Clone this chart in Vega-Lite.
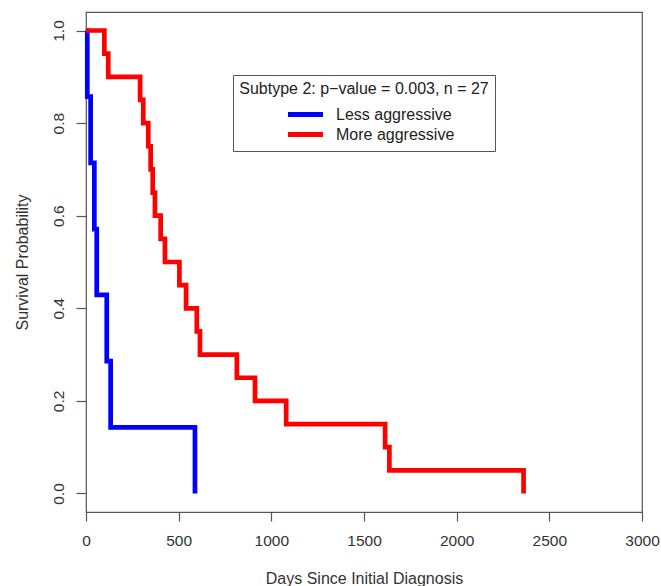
{
  "$schema": "https://vega.github.io/schema/vega-lite/v6.json",
  "width": 556,
  "height": 500,
  "autosize": {"type": "none"},
  "padding": {"left": 86, "top": 12, "right": 19, "bottom": 74},
  "background": "white",
  "config": {
    "font": "Liberation Sans",
    "view": {"stroke": "#555555", "strokeWidth": 1.2},
    "axis": {
      "grid": false,
      "domain": false,
      "tickColor": "#555555",
      "tickWidth": 1.2,
      "labelColor": "#333333",
      "titleColor": "#333333",
      "labelFont": "Liberation Sans",
      "titleFont": "Liberation Sans",
      "labelFontSize": 15.5,
      "titleFontSize": 16,
      "titleFontWeight": "normal"
    },
    "legend": {
      "labelFont": "Liberation Sans",
      "titleFont": "Liberation Sans"
    }
  },
  "data": {
    "values": [
      {"group": "Less aggressive", "days": 0, "surv": 1.0},
      {"group": "Less aggressive", "days": 7, "surv": 0.857},
      {"group": "Less aggressive", "days": 25, "surv": 0.714},
      {"group": "Less aggressive", "days": 45, "surv": 0.571},
      {"group": "Less aggressive", "days": 58, "surv": 0.429},
      {"group": "Less aggressive", "days": 112, "surv": 0.286},
      {"group": "Less aggressive", "days": 133, "surv": 0.143},
      {"group": "Less aggressive", "days": 588, "surv": 0.0},
      {"group": "More aggressive", "days": 0, "surv": 1.0},
      {"group": "More aggressive", "days": 99, "surv": 0.95},
      {"group": "More aggressive", "days": 120, "surv": 0.9},
      {"group": "More aggressive", "days": 292, "surv": 0.85},
      {"group": "More aggressive", "days": 309, "surv": 0.8},
      {"group": "More aggressive", "days": 336, "surv": 0.75},
      {"group": "More aggressive", "days": 349, "surv": 0.7},
      {"group": "More aggressive", "days": 360, "surv": 0.65},
      {"group": "More aggressive", "days": 372, "surv": 0.6},
      {"group": "More aggressive", "days": 403, "surv": 0.55},
      {"group": "More aggressive", "days": 426, "surv": 0.5},
      {"group": "More aggressive", "days": 504, "surv": 0.45},
      {"group": "More aggressive", "days": 540, "surv": 0.4},
      {"group": "More aggressive", "days": 598, "surv": 0.35},
      {"group": "More aggressive", "days": 615, "surv": 0.3},
      {"group": "More aggressive", "days": 814, "surv": 0.25},
      {"group": "More aggressive", "days": 912, "surv": 0.2},
      {"group": "More aggressive", "days": 1080, "surv": 0.15},
      {"group": "More aggressive", "days": 1614, "surv": 0.1},
      {"group": "More aggressive", "days": 1637, "surv": 0.05},
      {"group": "More aggressive", "days": 2361, "surv": 0.0}
    ]
  },
  "mark": {"type": "line", "interpolate": "step-after", "strokeWidth": 4.7, "strokeCap": "butt", "strokeJoin": "miter"},
  "encoding": {
    "x": {
      "field": "days",
      "type": "quantitative",
      "scale": {"domain": [0, 3000], "nice": false, "zero": false},
      "axis": {
        "values": [0, 500, 1000, 1500, 2000, 2500, 3000],
        "format": "d",
        "tickSize": 9,
        "labelPadding": 12,
        "labelBaseline": "top",
        "labelFlush": false,
        "title": "Days Since Initial Diagnosis",
        "titleX": 278,
        "titleY": 71,
        "titleAlign": "center",
        "titleBaseline": "alphabetic"
      }
    },
    "y": {
      "field": "surv",
      "type": "quantitative",
      "scale": {"domain": [-0.04, 1.04], "nice": false, "zero": false},
      "axis": {
        "values": [0, 0.2, 0.4, 0.6, 0.8, 1.0],
        "format": ".1f",
        "tickSize": 10,
        "labelAngle": -90,
        "labelAlign": "center",
        "labelBaseline": "alphabetic",
        "labelPadding": 13,
        "labelFlush": false,
        "title": "Survival Probability",
        "titleAngle": 270,
        "titleX": -59,
        "titleY": 250,
        "titleAlign": "center",
        "titleBaseline": "alphabetic"
      }
    },
    "color": {
      "field": "group",
      "type": "nominal",
      "scale": {"domain": ["Less aggressive", "More aggressive"], "range": ["#0000FF", "#FF0000"]},
      "legend": {
        "orient": "none",
        "legendX": 147,
        "legendY": 63,
        "title": "Subtype 2: p−value = 0.003, n = 27",
        "titleLimit": 400,
        "titleFontSize": 16,
        "titleFontWeight": "normal",
        "titleColor": "#222222",
        "titleAnchor": "middle",
        "titlePadding": 8,
        "labelFontSize": 16,
        "labelColor": "#222222",
        "labelLimit": 300,
        "symbolType": "M-2.5,0H2.5",
        "symbolStrokeWidth": 5,
        "symbolSize": 196,
        "symbolOffset": 23,
        "labelOffset": 21,
        "rowPadding": -1,
        "strokeColor": "#555555",
        "fillColor": "white",
        "padding": 6
      }
    }
  }
}
